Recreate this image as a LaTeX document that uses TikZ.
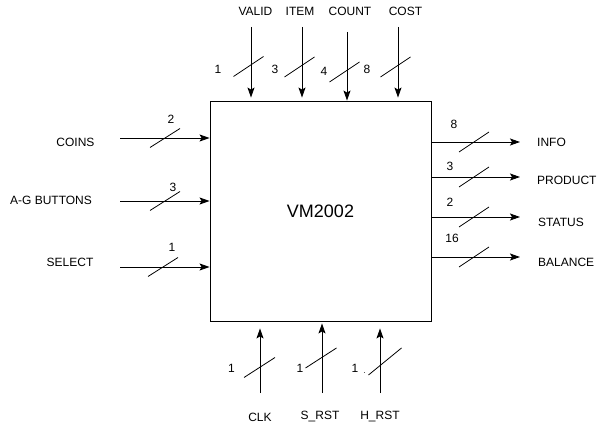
\documentclass[tikz,border=0pt]{standalone}
\usepackage{fontspec}
\setmainfont{Liberation Sans}
\usetikzlibrary{arrows.meta,calc}

\begin{document}
\begin{tikzpicture}[x=1pt,y=-1pt,font=\fontsize{12}{14}\selectfont,>={Stealth[length=10pt,width=7pt,inset=2pt]},
  sig/.style={->,line width=0.9pt},bus/.style={line width=0.8pt}]
\useasboundingbox (0,0) rectangle (606,428);
\node[draw,line width=0.9pt,minimum width=221pt,minimum height=220pt,font=\fontsize{18}{21}\selectfont] (vm) at (320.5,211) {VM2002};
% inputs, left side
\foreach \n/\lab/\tx/\ty/\y/\sx/\w/\nx/\ny in {coins/COINS/75.5/142/138/165/2/171/119, buttons/A-G BUTTONS/51/200/201/165/3/173/187, select/SELECT/70/262/267/163/1/172/247}{
  \node (\n) at (\tx,\ty) {\lab};
  \coordinate (\n-in) at (120,\y);
  \draw[sig] (\n-in) -- (\n-in -| vm.west);
  \draw[bus] ($(\sx,\y)+(-15,9.5)$) -- ($(\sx,\y)+(15,-9.5)$);
  \node (\n-w) at (\nx,\ny) {\w};
}
% inputs, top side
\foreach \n/\lab/\x/\lx/\top/\gap/\sy/\w/\nx/\ny in {valid/VALID/251/255.5/27/3/66.5/1/218/69, item/ITEM/302/300/27/3/67/3/275/69, count/COUNT/347/350/32/0/72/4/324/71, cost/COST/398/405.5/27/3/67/8/367/69}{
  \node (\n) at (\lx,11.5) {\lab};
  \coordinate (\n-in) at (\x,\top);
  \draw[sig,shorten >=\gap pt] (\n-in) -- (\n-in |- vm.north);
  \draw[bus] ($(\x-2.5,\sy)+(-15,10)$) -- ($(\x-2.5,\sy)+(15,-10)$);
  \node (\n-w) at (\nx,\ny) {\w};
}
% outputs, right side
\foreach \n/\lab/\y/\lx/\ly/\w/\nx/\ny in {info/INFO/142/537/142/8/454/124, product/PRODUCT/177/537/180/3/450/166, status/STATUS/217/538/222/2/450/202, balance/BALANCE/257/538/262/16/452/238}{
  \node[anchor=west,inner sep=0pt] (\n) at (\lx,\ly) {\lab};
  \coordinate (\n-out) at (520,\y);
  \draw[sig] (\n-out -| vm.east) -- (\n-out);
  \draw[bus] ($(474,\y)+(-15,10)$) -- ($(474,\y)+(15,-10)$);
  \node (\n-w) at (\nx,\ny) {\w};
}
% inputs, bottom side
\foreach \n/\lab/\x/\lx/\gap/\sx/\sy/\dx/\dy/\nx in {clk/CLK/260/260/7/259.5/367.5/15.5/10/231.5, srst/S\_RST/322/320/2/321/358/15.5/10/300, hrst/H\_RST/380/380/7/385/361.5/16.5/13.5/355}{
  \node (\n) at (\lx,417) {\lab};
  \coordinate (\n-in) at (\x,393);
  \draw[sig,shorten >=\gap pt] (\n-in) -- (\n-in |- vm.south);
  \draw[bus] ($(\sx,\sy)+(-\dx,\dy)$) -- ($(\sx,\sy)+(\dx,-\dy)$);
  \node (\n-w) at (\nx,368) {1};
}
\node[font=\fontsize{8}{9}\selectfont] (hrst-dot) at (364.5,373) {.};
\end{tikzpicture}
\end{document}
